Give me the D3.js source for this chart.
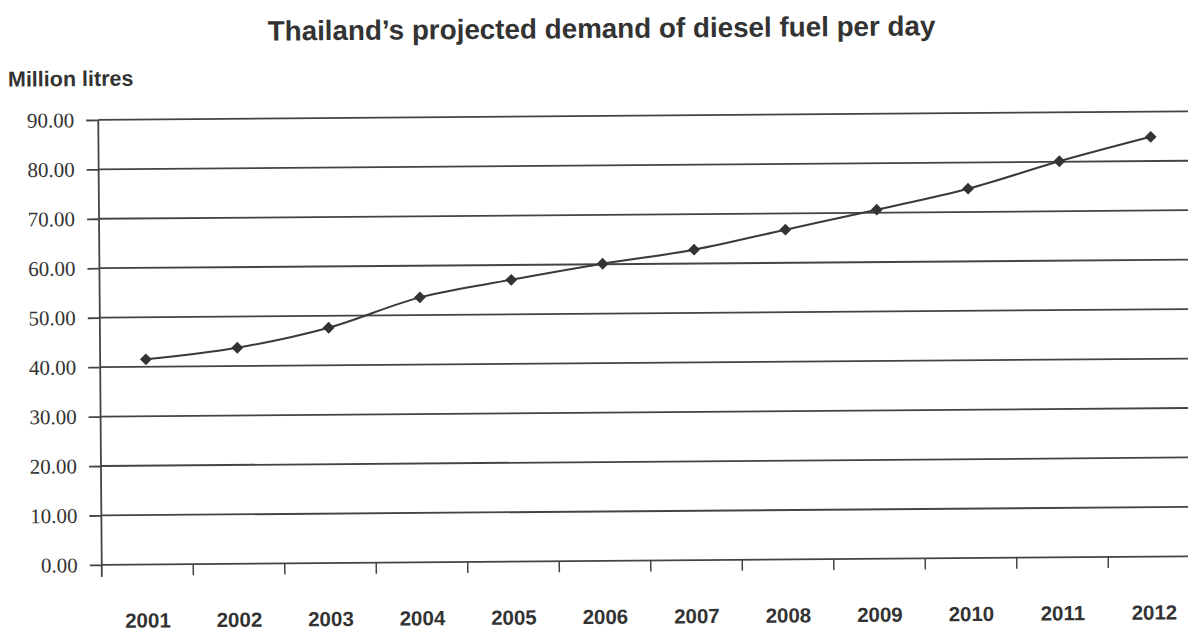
<!DOCTYPE html>
<html>
<head>
<meta charset="utf-8">
<script src="https://cdn.jsdelivr.net/npm/d3@7"></script>
<style>
  html, body { margin: 0; padding: 0; background: #fff; }
  svg { display: block; }
</style>
</head>
<body>
<div id="chart"></div>
<script>
// ---- data ----
const years = ["2001","2002","2003","2004","2005","2006","2007","2008","2009","2010","2011","2012"];
const demand = [41.5, 43.7, 47.6, 53.6, 57.0, 60.1, 62.8, 66.7, 70.6, 74.7, 80.1, 84.9];
const yTicks = [0, 10, 20, 30, 40, 50, 60, 70, 80, 90];
const titleText = "Thailand\u2019s projected demand of diesel fuel per day";
const yAxisTitle = "Million litres";

// ---- layout ----
const W = 1188, H = 632;
const plotLeft = 100, plotRight = 1198, plotTop = 116, plotBottom = 561;
const ink = "#333";

const svg = d3.select("#chart").append("svg")
  .attr("width", W).attr("height", H);

// whole scanned chart is slightly tilted
const g = svg.append("g").attr("transform", "rotate(-0.45 594 340)");

const x = d3.scaleBand().domain(years).range([plotLeft, plotRight]).paddingInner(0).paddingOuter(0);
const y = d3.scaleLinear().domain([0, 90]).range([plotBottom, plotTop]);

// title
g.append("text")
  .attr("x", 604).attr("y", 38)
  .attr("text-anchor", "middle")
  .attr("font-family", "Liberation Sans, Arial, sans-serif")
  .attr("font-weight", "bold")
  .attr("font-size", 27.8)
  .attr("fill", ink)
  .text(titleText);

g.append("text")
  .attr("x", 10).attr("y", 82)
  .attr("font-family", "Liberation Sans, Arial, sans-serif")
  .attr("font-weight", "bold")
  .attr("font-size", 21.5)
  .attr("fill", ink)
  .text(yAxisTitle);

// gridlines
g.append("g").selectAll("line").data(yTicks.filter(d => d > 0)).join("line")
  .attr("x1", plotLeft).attr("x2", plotRight)
  .attr("y1", d => y(d)).attr("y2", d => y(d))
  .attr("stroke", "#444").attr("stroke-width", 1.8);

// y axis
const yAxis = g.append("g")
  .attr("transform", `translate(${plotLeft},0)`)
  .call(d3.axisLeft(y).tickValues(yTicks).tickSize(12).tickPadding(12).tickFormat(d3.format(".2f")));
yAxis.select(".domain").attr("stroke", "#444").attr("stroke-width", 1.8)
  .attr("d", `M0,${y(90)}V${plotBottom + 12}`);
yAxis.selectAll(".tick line").attr("stroke", "#444").attr("stroke-width", 1.8);
yAxis.selectAll(".tick text")
  .attr("font-family", "Liberation Serif, Times New Roman, serif")
  .attr("font-size", 21)
  .attr("fill", ink);

// x axis line
g.append("line")
  .attr("x1", plotLeft).attr("x2", plotRight)
  .attr("y1", y(0)).attr("y2", y(0))
  .attr("stroke", "#444").attr("stroke-width", 1.8);

// x ticks at band boundaries (below axis)
g.append("g").selectAll("line").data(years.slice(1)).join("line")
  .attr("x1", d => x(d)).attr("x2", d => x(d))
  .attr("y1", y(0)).attr("y2", y(0) + 11)
  .attr("stroke", "#444").attr("stroke-width", 1.5);

// x labels
g.append("g").selectAll("text").data(years).join("text")
  .attr("x", d => x(d) + x.bandwidth() / 2)
  .attr("y", 624)
  .attr("text-anchor", "middle")
  .attr("font-family", "Liberation Sans, Arial, sans-serif")
  .attr("font-weight", "bold")
  .attr("font-size", 20.5)
  .attr("fill", ink)
  .text(d => d);

// line
const pts = years.map((yr, i) => [x(yr) + x.bandwidth() / 2, y(demand[i])]);
g.append("path")
  .attr("d", d3.line().curve(d3.curveCatmullRom.alpha(0.5))(pts))
  .attr("fill", "none")
  .attr("stroke", "#3a3a3a")
  .attr("stroke-width", 2);

// markers
g.append("g").selectAll("path").data(pts).join("path")
  .attr("d", d3.symbol().type(d3.symbolSquare).size(70))
  .attr("transform", d => `translate(${d[0]},${d[1]}) rotate(45)`)
  .attr("fill", "#333");
</script>
</body>
</html>
